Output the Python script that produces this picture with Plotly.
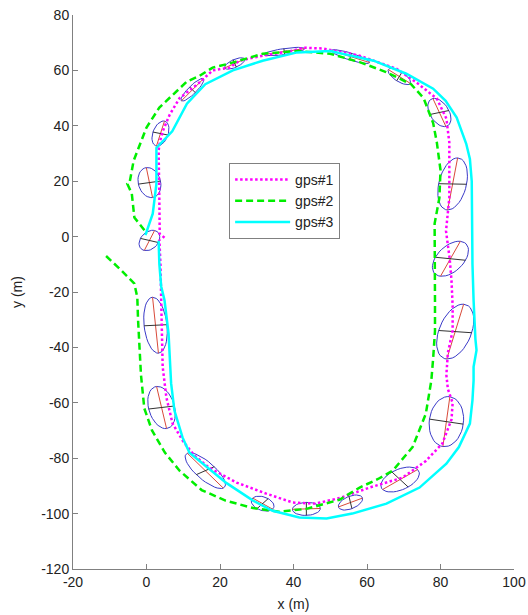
import numpy as np
import plotly.graph_objects as go

# ---- track data (metres) ----
gps1_x = [4.9, 3.6, 3.5, 3.4, 3.3, 3.6, 4.4, 6.3, 9, 14.4, 18, 22.6, 25.3, 31.6, 39.7, 42.7, 48, 58, 68, 73.5, 79, 81.6, 82.4, 82.4, 82.4, 81.5, 82.5, 83, 83.3, 83.3, 82, 81.6, 82, 83.3, 83, 80.5, 76, 69.7, 60.7, 52.5, 46, 39.8, 32.6, 24.5, 17, 13, 10, 7.1, 5.4, 4.4, 4.3, 4, 3.8, 3.5]
gps1_y = [-0.4, 1, 13, 22, 31, 34, 38, 44, 50, 55.6, 60, 61, 63.5, 65.3, 67.1, 68.2, 67.9, 65.3, 60.6, 55.6, 49.8, 42.6, 34, 28, 14, 2, -8, -16, -25, -34, -42, -50, -55, -60, -66, -74.7, -81, -87, -90.6, -94.4, -96.4, -96, -92.8, -88.8, -83.4, -79, -74, -67.5, -58, -47, -35, -23, -10, -1]

gps2_x = [-11, -7, -3.3, -2.5, -2.3, -1.9, -1.5, -0.6, 1.5, 5, 9, 15, 21.5, 29, 36, 43.5, 52.5, 58, 63, 67, 72.4, 76, 77.5, 78, 78.5, 78.5, 78.4, 78.4, 79.7, 80, 79, 78, 75.4, 72, 65, 58, 50, 41, 31.6, 22.6, 18, 14.4, 11, 9, 3.5, 0, -1.6, -3.5, -4.6, -5.2, -4, -3.3, -0.5, 0]
gps2_y = [-7, -12, -17, -22, -30, -38, -50, -62, -70, -78, -84.5, -91.5, -95.3, -98, -99.3, -98.3, -95, -90.6, -87.5, -84.5, -76, -64, -52, -44, -34, -23, -10, 4.7, 14, 24, 34, 41, 50, 55, 59.5, 63, 66, 67, 66, 62.5, 61, 58, 56, 53.4, 46.6, 39.4, 34, 27.4, 19.5, 19, 15.5, 6.9, 2.2, 1]

gps3_x = [3.3, 3.5, 4, 4.9, 6, 6.7, 7.6, 9.8, 11.7, 14.4, 18, 21.8, 29, 34.3, 41.6, 49, 56, 65.3, 74.3, 81.6, 85, 88, 88.7, 89, 89, 89.8, 89.5, 89.2, 89, 88.7, 88.7, 88.5, 88, 87, 84.4, 81.4, 78, 70.7, 61.8, 50, 41, 31.6, 23.5, 16, 11, 7, 2.7, 2.7, 1.7, -0.3]
gps3_y = [-1.5, -10, -18, -23, -35, -53, -62.8, -72.5, -78, -81, -85, -89, -95.3, -99, -101.4, -101.8, -100, -96.4, -90.6, -82, -76, -67.5, -59, -52, -47, -41, -37, -30, -23, -10, 5, 20, 28, 33.5, 43, 49, 53.4, 58.8, 63.5, 67, 66.5, 63.5, 60, 55, 48, 38, 32, 19, 8.3, 0.5]

# ---- error ellipses: centre, major half-axis vector (red), minor half-axis vector (black) ----
ell_cx = [0.8, 0.8, 3.8, 12.5, 24, 37.5, 55.5, 68.8, 79.7, 83.3, 82.7, 84, 81.6, 69, 55.5, 43.5, 31.6, 16, 4.1, 2.45]
ell_cy = [-1.4, 19.5, 37.2, 53, 62.5, 66.8, 65, 57.8, 44.8, 19, -8, -34.3, -66.8, -87.7, -96, -98.3, -96.4, -84.5, -61.7, -32]
ell_ax = [1.4, -0.85, 1.09, 3.0, 2.7, 5.6, 5.2, 3.0, 1.77, 1.36, 2.7, 2.3, 0.95, 4.76, 3.27, 3.8, 2.7, 4.9, 1.36, -0.8]
ell_ay = [3.6, 5.4, 4.5, 3.97, 1.6, 1.08, -2.17, -2.5, -5.05, 9.4, 6.3, 9.9, 9.0, 3.6, 1.6, 0.15, -2.0, -6.3, -7.6, 10.1]
ell_bx = [2.45, 3.0, 2.04, 0.77, 0.45, 0.12, -0.29, -0.72, 2.6, 3.8, 4.1, 4.5, 4.6, 2.2, 0.4, 0.0, 1.5, 2.45, 3.5, 3.1]
ell_by = [-0.75, 0.55, -0.54, -1.02, -1.3, -1.07, -1.2, -1.53, 0.72, -0.1, -0.54, -0.4, -0.9, -2.7, -2.2, 2.35, 1.8, 1.44, 0.54, 0.2]

# ---- axis ticks ----
x_ticks = [-20, 0, 20, 40, 60, 80, 100]
x_tick_labels = ["-20", "0", "20", "40", "60", "80", "100"]
y_ticks = [-120, -100, -80, -60, -40, -20, 0, 20, 40, 60, 80]
y_tick_labels = ["-120", "-100", "-80", "-60", "-40", "-20", "0", "20", "40", "60", "80"]

t = np.linspace(0, 2 * np.pi, 41)
ox, oy, rx, ry, kx, ky = [], [], [], [], [], []
for cx, cy, ax, ay, bx, by in zip(ell_cx, ell_cy, ell_ax, ell_ay, ell_bx, ell_by):
    ox += list(cx + ax * np.cos(t) + bx * np.sin(t)) + [None]
    oy += list(cy + ay * np.cos(t) + by * np.sin(t)) + [None]
    rx += [cx - ax, cx + ax, None]
    ry += [cy - ay, cy + ay, None]
    kx += [cx - bx, cx + bx, None]
    ky += [cy - by, cy + by, None]

fig = go.Figure()
fig.add_trace(go.Scatter(x=ox, y=oy, mode="lines", line=dict(color="#3a3ac8", width=1), showlegend=False, hoverinfo="skip"))
fig.add_trace(go.Scatter(x=rx, y=ry, mode="lines", line=dict(color="#d84a3a", width=1), showlegend=False, hoverinfo="skip"))
fig.add_trace(go.Scatter(x=kx, y=ky, mode="lines", line=dict(color="#333333", width=1), showlegend=False, hoverinfo="skip"))

fig.add_trace(go.Scatter(x=gps1_x, y=gps1_y, mode="lines", name="gps#1",
                         line=dict(color="#ff00ff", width=2.5, dash="2.5px,2.5px")))
fig.add_trace(go.Scatter(x=gps2_x, y=gps2_y, mode="lines", name="gps#2",
                         line=dict(color="#00ee00", width=2.5, dash="7px,4px")))
fig.add_trace(go.Scatter(x=gps3_x, y=gps3_y, mode="lines", name="gps#3",
                         line=dict(color="#00ffff", width=2.5)))

axis_common = dict(showgrid=False, zeroline=False, showline=True, linecolor="#808080", linewidth=1,
                   ticks="inside", ticklen=5, tickcolor="#808080", tickfont=dict(size=14, color="#222222"),
                   mirror=False, automargin=False, ticklabeloverflow="allow")
fig.update_layout(
    width=528, height=615,
    margin=dict(l=73, r=14, t=15, b=46),
    paper_bgcolor="white", plot_bgcolor="white",
    font=dict(family="Arial, Liberation Sans, sans-serif", size=14, color="#222222"),
    xaxis=dict(range=[-20, 100], tickvals=x_ticks, ticktext=x_tick_labels,
               title=dict(text="x (m)", standoff=10, font=dict(size=14)), **axis_common),
    yaxis=dict(range=[-120, 80], tickvals=y_ticks, ticktext=y_tick_labels,
               title=dict(text="y (m)", standoff=15, font=dict(size=14)), **axis_common),
    legend=dict(x=0.354, y=0.733, xanchor="left", yanchor="top", bgcolor="white",
                bordercolor="#808080", borderwidth=1, font=dict(size=14), itemwidth=55),
    showlegend=True,
)
fig.write_html("out.html", config={"displayModeBar": False},
               post_script="document.body.style.margin='0';document.body.style.overflow='hidden';")
